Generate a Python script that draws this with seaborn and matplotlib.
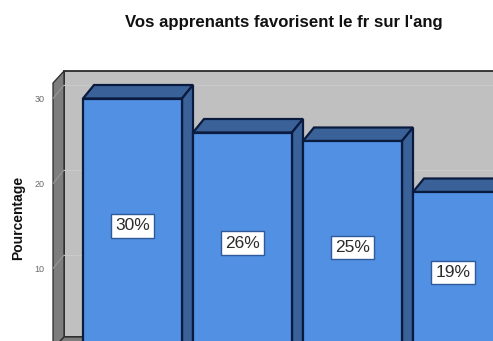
import matplotlib
matplotlib.use("Agg")
import matplotlib.pyplot as plt
from matplotlib.patches import Polygon
from matplotlib.transforms import Affine2D, blended_transform_factory
import pandas as pd
import seaborn as sns

# Chart data
categories = ["c1", "c2", "c3", "c4"]
percentages = [30, 26, 25, 19]
value_labels = ["30%", "26%", "25%", "19%"]
y_ticks = [10, 20, 30]

TITLE = "Vos apprenants favorisent le fr sur l'ang"
Y_LABEL = "Pourcentage"

# Colours
FRONT = "#5190e2"
SIDE = "#3a6298"
EDGE = "#0b1a3f"
BACK_WALL = "#c0c0c0"
LEFT_WALL = "#7d7d7d"
FRAME = "#2a2a2a"

W, H = 493, 341
# Pixel row of the zero baseline, below the lower edge of the figure
BASELINE = 353.5
sns.set_theme(style="white")
plt.rcParams["font.family"] = ["Liberation Sans", "DejaVu Sans"]

fig = plt.figure(figsize=(W / 100, H / 100), dpi=100, facecolor="white")
ax = fig.add_axes([53 / W, (H - BASELINE) / H, (W - 53) / W, BASELINE / H])
ax.set_zorder(2)
ax.patch.set_visible(False)
for s in ax.spines.values():
    s.set_visible(False)

df = pd.DataFrame({"cat": categories, "pct": percentages})
sns.barplot(data=df, x="cat", y="pct", color=FRONT, saturation=1, width=0.9,
            edgecolor=EDGE, linewidth=1.6, ax=ax, zorder=4)

# Scales: 110 px per category, 8.5 px per percentage point
ax.set_xlim((53 - 132.5) / 110, (W - 132.5) / 110)
ax.set_ylim(0, BASELINE / 8.5)

ax.set_xticks([])
ax.set_xlabel("")
ax.set_yticks(y_ticks)
ax.tick_params(axis="y", length=0, pad=6, labelsize=6.5, labelcolor="#6a6a6a")
ax.set_ylabel("")

# Walls of the 3D box, placed in figure pixels
px = Affine2D().scale(1, -1).translate(0, H)
fig.patches.append(Polygon([(64, 71), (W + 2, 71), (W + 2, 337), (64, 337)], closed=True,
                           facecolor=BACK_WALL, edgecolor=FRAME, linewidth=1.3,
                           transform=px, zorder=0, figure=fig))
fig.patches.append(Polygon([(53, 83), (64, 71), (64, 337), (53, 349)], closed=True,
                           facecolor=LEFT_WALL, edgecolor=FRAME, linewidth=0.9,
                           transform=px, zorder=0, figure=fig))
fig.patches.append(Polygon([(53, 349), (64, 337), (W + 2, 337), (W + 2, 349)], closed=True,
                           facecolor=LEFT_WALL, edgecolor=FRAME, linewidth=0.9,
                           transform=px, zorder=0, figure=fig))

# Depth of each bar and of the gridlines, in data units
dx = 0.1
dy = 13.5 / 8.5

# Gridlines running along the left wall and across the back wall
blend = blended_transform_factory(px, ax.transData)
for v in y_ticks:
    ax.plot([53, 64], [v, v + dy], transform=blend, color="#979797", lw=0.8,
            clip_on=False, zorder=1)
    ax.plot([64, W], [v + dy, v + dy], transform=blend, color="#c9c9c9", lw=0.8,
            clip_on=False, zorder=1)

# Top and side faces drawn from each bar's value
half = 0.45
for i, v in enumerate(percentages):
    top = [(i - half, v), (i - half + dx, v + dy), (i + half + dx, v + dy), (i + half, v)]
    side = [(i + half, v), (i + half + dx, v + dy), (i + half + dx, 0), (i + half, 0)]
    for pts in (top, side):
        ax.add_patch(Polygon(pts, closed=True, facecolor=SIDE, edgecolor=EDGE,
                             linewidth=1.6, zorder=3))

ax.bar_label(ax.containers[0], labels=value_labels, label_type="center",
             fontsize=12.5, color="#2b2b2b", zorder=6,
             bbox=dict(boxstyle="square,pad=0.24", facecolor="white",
                       edgecolor="#2f5a9a", linewidth=1.0))

fig.text(284 / W, 1 - 22.5 / H, TITLE, ha="center", va="center",
         fontsize=12.1, fontweight="bold", color="#111111")
fig.text(18 / W, 1 - 218 / H, Y_LABEL, ha="center", va="center", rotation=90,
         fontsize=10, fontweight="bold", color="#111111")

fig.savefig("out.png", dpi=100, facecolor="white")
